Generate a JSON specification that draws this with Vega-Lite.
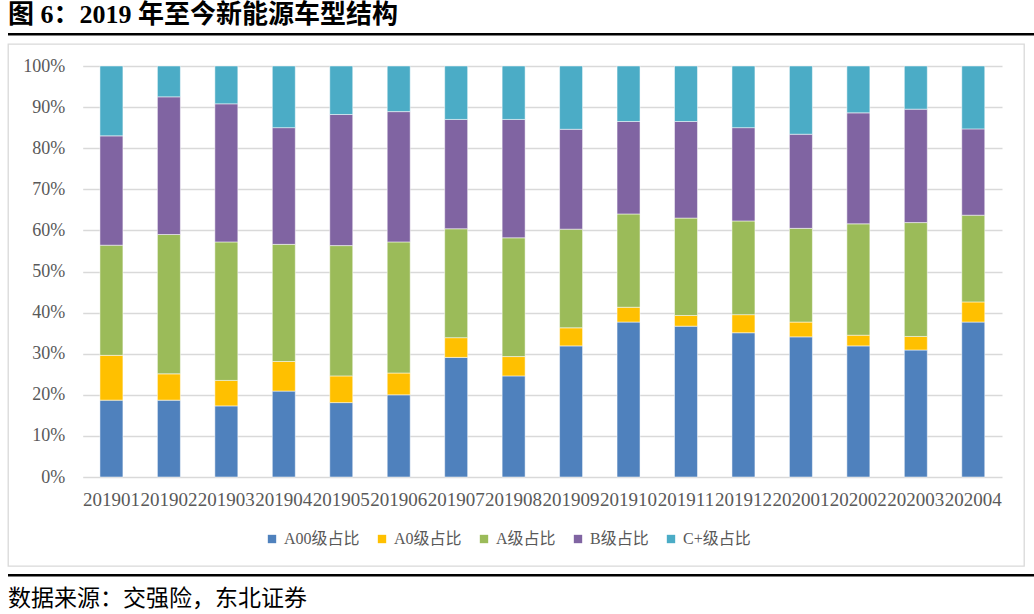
{
  "$schema": "https://vega.github.io/schema/vega-lite/v6.json",
  "padding": {"left": 7, "top": 2, "right": 0, "bottom": 1},
  "autosize": {"type": "pad"},
  "bounds": "flush",
  "spacing": 8,
  "data": {
    "values": [
      {"月份": "201901", "A00级占比": 18.7, "A0级占比": 10.9, "A级占比": 26.8, "B级占比": 26.6, "C+级占比": 17.0},
      {"月份": "201902", "A00级占比": 18.7, "A0级占比": 6.4, "A级占比": 33.9, "B级占比": 33.5, "C+级占比": 7.5},
      {"月份": "201903", "A00级占比": 17.3, "A0级占比": 6.2, "A级占比": 33.7, "B级占比": 33.6, "C+级占比": 9.2},
      {"月份": "201904", "A00级占比": 20.9, "A0级占比": 7.2, "A级占比": 28.5, "B级占比": 28.4, "C+级占比": 15.0},
      {"月份": "201905", "A00级占比": 18.1, "A0级占比": 6.5, "A级占比": 31.7, "B级占比": 31.9, "C+级占比": 11.8},
      {"月份": "201906", "A00级占比": 20.0, "A0级占比": 5.3, "A级占比": 31.9, "B级占比": 31.7, "C+级占比": 11.1},
      {"月份": "201907", "A00级占比": 29.1, "A0级占比": 4.8, "A级占比": 26.5, "B级占比": 26.6, "C+级占比": 13.0},
      {"月份": "201908", "A00级占比": 24.6, "A0级占比": 4.7, "A级占比": 28.9, "B级占比": 28.8, "C+级占比": 13.0},
      {"月份": "201909", "A00级占比": 31.9, "A0级占比": 4.4, "A级占比": 24.0, "B级占比": 24.3, "C+级占比": 15.4},
      {"月份": "201910", "A00级占比": 37.7, "A0级占比": 3.6, "A级占比": 22.7, "B级占比": 22.5, "C+级占比": 13.5},
      {"月份": "201911", "A00级占比": 36.7, "A0级占比": 2.6, "A级占比": 23.7, "B级占比": 23.5, "C+级占比": 13.5},
      {"月份": "201912", "A00级占比": 35.1, "A0级占比": 4.4, "A级占比": 22.8, "B级占比": 22.7, "C+级占比": 15.0},
      {"月份": "202001", "A00级占比": 34.1, "A0级占比": 3.6, "A级占比": 22.8, "B级占比": 22.9, "C+级占比": 16.6},
      {"月份": "202002", "A00级占比": 31.9, "A0级占比": 2.6, "A级占比": 27.1, "B级占比": 27.0, "C+级占比": 11.4},
      {"月份": "202003", "A00级占比": 30.9, "A0级占比": 3.3, "A级占比": 27.7, "B级占比": 27.6, "C+级占比": 10.5},
      {"月份": "202004", "A00级占比": 37.7, "A0级占比": 4.9, "A级占比": 21.1, "B级占比": 21.0, "C+级占比": 15.3}
    ]
  },
  "vconcat": [
    {
      "width": 1027,
      "height": 2.5,
      "view": {"fill": "#000000", "stroke": null},
      "title": {
        "text": "图 6：2019 年至今新能源车型结构",
        "anchor": "start",
        "frame": "group",
        "orient": "top",
        "fontSize": 26,
        "fontWeight": "bold",
        "color": "#000000",
        "font": "Liberation Serif, Noto Sans CJK SC",
        "offset": 0
      },
      "mark": {"type": "text"},
      "encoding": {"text": {"value": ""}}
    },
    {
      "width": 1016,
      "height": 522,
      "view": {"stroke": "#d9d9d9", "strokeWidth": 1.3, "fill": null},
      "transform": [
        {"fold": ["A00级占比", "A0级占比", "A级占比", "B级占比", "C+级占比"], "as": ["类型", "占比"]}
      ],
      "mark": {"type": "bar", "stroke": "#ffffff", "strokeWidth": 0.5},
      "encoding": {
        "x": {
          "field": "月份",
          "type": "ordinal",
          "sort": null,
          "scale": {"range": [74.7, 994], "paddingInner": 0.6, "paddingOuter": 0.3},
          "axis": {
            "title": null,
            "orient": "bottom",
            "offset": -89,
            "labelAngle": 0,
            "labelFont": "Liberation Serif",
            "labelFontSize": 19,
            "labelColor": "#595959",
            "labelPadding": 13,
            "labelOverlap": false,
            "labelBound": false,
            "grid": false,
            "domain": false,
            "ticks": false
          }
        },
        "y": {
          "field": "占比",
          "type": "quantitative",
          "stack": "zero",
          "scale": {"domain": [0, 100], "range": [433, 22], "nice": false, "zero": true},
          "axis": {
            "title": null,
            "offset": -74.7,
            "values": [0, 10, 20, 30, 40, 50, 60, 70, 80, 90, 100],
            "labelExpr": "datum.value + '%'",
            "grid": true,
            "gridColor": "#d9d9d9",
            "gridWidth": 1.3,
            "domain": false,
            "ticks": false,
            "labelFont": "Liberation Serif",
            "labelFontSize": 18,
            "labelColor": "#595959",
            "labelPadding": 18
          }
        },
        "order": {"field": "类型", "sort": "ascending"},
        "color": {
          "field": "类型",
          "type": "nominal",
          "sort": ["A00级占比", "A0级占比", "A级占比", "B级占比", "C+级占比"],
          "scale": {
            "domain": ["A00级占比", "A0级占比", "A级占比", "B级占比", "C+级占比"],
            "range": ["#4f81bd", "#ffc000", "#9bbb59", "#8064a2", "#4bacc6"]
          },
          "legend": {
            "orient": "none",
            "legendX": 256,
            "legendY": 498,
            "direction": "horizontal",
            "title": null,
            "symbolType": "square",
            "symbolSize": 70,
            "symbolStrokeWidth": 0,
            "labelFont": "Liberation Serif, Noto Sans CJK SC",
            "labelFontSize": 16,
            "labelColor": "#595959",
            "labelOffset": 4,
            "columnPadding": 14,
            "padding": 0
          }
        }
      }
    },
    {
      "width": 1027,
      "height": 2.5,
      "view": {"fill": "#000000", "stroke": null},
      "title": {
        "text": "数据来源：交强险，东北证券",
        "anchor": "start",
        "frame": "group",
        "orient": "bottom",
        "fontSize": 23,
        "fontWeight": "normal",
        "color": "#000000",
        "font": "Noto Sans CJK SC",
        "offset": 8
      },
      "mark": {"type": "text"},
      "encoding": {"text": {"value": ""}}
    }
  ],
  "config": {
    "background": "#ffffff"
  }
}
